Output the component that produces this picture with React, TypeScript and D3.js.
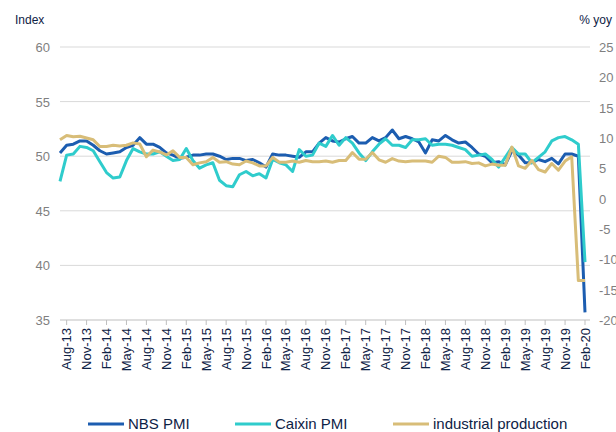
import React from 'react';
import * as d3 from 'd3';

// 月度数据：Jul-13 ~ Feb-20
const months = d3.timeMonth.range(new Date(2013, 6, 1), new Date(2020, 2, 1));

const xTickLabels = [
  'Aug-13', 'Nov-13', 'Feb-14', 'May-14', 'Aug-14', 'Nov-14', 'Feb-15', 'May-15', 'Aug-15',
  'Nov-15', 'Feb-16', 'May-16', 'Aug-16', 'Nov-16', 'Feb-17', 'May-17', 'Aug-17', 'Nov-17',
  'Feb-18', 'May-18', 'Aug-18', 'Nov-18', 'Feb-19', 'May-19', 'Aug-19', 'Nov-19', 'Feb-20',
];

const leftTicks = [35, 40, 45, 50, 55, 60];
const rightTicks = [-20, -15, -10, -5, 0, 5, 10, 15, 20, 25];

// NBS PMI（左轴）
const nbsPmi = [
  50.3, 51.0, 51.1, 51.4, 51.4, 51.0,
  50.5, 50.2, 50.3, 50.4, 50.8, 51.0, 51.7, 51.1, 51.1, 50.8, 50.3, 50.1,
  49.8, 49.9, 50.1, 50.1, 50.2, 50.2, 50.0, 49.7, 49.8, 49.8, 49.6, 49.7,
  49.4, 49.0, 50.2, 50.1, 50.1, 50.0, 49.9, 50.4, 50.4, 51.2, 51.7, 51.4,
  51.3, 51.6, 51.8, 51.2, 51.2, 51.7, 51.4, 51.7, 52.4, 51.6, 51.8, 51.6,
  51.3, 50.3, 51.5, 51.4, 51.9, 51.5, 51.2, 51.3, 50.8, 50.2, 50.0, 49.4,
  49.5, 49.2, 50.5, 50.1, 49.4, 49.4, 49.7, 49.5, 49.8, 49.3, 50.2, 50.2,
  50.0, 35.7,
];

// Caixin PMI（左轴）
const caixinPmi = [
  47.7, 50.1, 50.2, 50.9, 50.8, 50.5,
  49.5, 48.5, 48.0, 48.1, 49.6, 50.7, 50.4, 50.2, 50.2, 50.4, 50.0, 49.6,
  49.7, 50.7, 49.6, 48.9, 49.2, 49.4, 47.8, 47.3, 47.2, 48.3, 48.6, 48.2,
  48.4, 48.0, 49.7, 49.4, 49.2, 48.6, 50.6, 50.0, 50.1, 51.2, 50.9, 51.9,
  51.0, 51.7, 51.2, 50.3, 49.6, 50.4, 51.1, 51.6, 51.0, 51.0, 50.8, 51.5,
  51.5, 51.6, 51.0, 51.1, 51.1, 51.0, 50.8, 50.6, 50.0, 50.1, 50.2, 49.7,
  49.0, 49.9, 50.8, 50.2, 50.2, 49.4, 49.9, 50.4, 51.4, 51.7, 51.8, 51.5,
  51.1, 40.3,
];

// 工业增加值 % yoy（右轴）
const industrialProduction = [
  9.7, 10.4, 10.2, 10.3, 10.0, 9.7,
  8.6, 8.6, 8.8, 8.7, 8.8, 9.2, 9.0, 6.9, 8.0, 7.7, 7.2, 7.9,
  6.8, 6.8, 5.6, 5.9, 6.1, 6.8, 6.0, 6.1, 5.7, 5.6, 6.2, 5.9,
  5.4, 5.4, 6.8, 6.0, 6.0, 6.2, 6.0, 6.3, 6.1, 6.1, 6.2, 6.0,
  6.3, 6.3, 7.6, 6.5, 6.5, 7.6, 6.4, 6.0, 6.6, 6.2, 6.1, 6.2,
  6.2, 6.2, 6.0, 7.0, 6.8, 6.0, 6.0, 6.1, 5.8, 5.9, 5.4, 5.7,
  5.5, 5.5, 8.5, 5.4, 5.0, 6.3, 4.8, 4.4, 5.8, 4.7, 6.2, 6.9,
  -13.5, -13.5,
];

const fmt = d3.timeFormat('%b-%y');
const categories = months.map(m => fmt(m));

const NAVY = '#0e2245';
const GRAY = '#7f7f7f';
const FONT = '"Liberation Sans", Arial, sans-serif';

const series = [
  { name: 'NBS PMI', values: nbsPmi, color: '#1c5db0', axis: 'left' },
  { name: 'Caixin PMI', values: caixinPmi, color: '#2fcccc', axis: 'left' },
  { name: 'industrial production', values: industrialProduction, color: '#d8bd78', axis: 'right' },
];

const App: React.FC = () => {
  const width = 616;
  const height = 432;
  const plot = { left: 60, right: 590, top: 47, bottom: 320 };

  const x = d3.scalePoint<string>().domain(categories).range([plot.left, 585]);
  const yL = d3.scaleLinear().domain([35, 60]).range([plot.bottom, plot.top]);
  const yR = d3.scaleLinear().domain([-20, 25]).range([plot.bottom, plot.top]);

  const makeLine = (scale: d3.ScaleLinear<number, number>) =>
    d3.line<number>()
      .x((_, i) => x(categories[i]) as number)
      .y(d => scale(d));

  const legendItems = [
    { name: 'NBS PMI', color: '#1c5db0', x: 88 },
    { name: 'Caixin PMI', color: '#2fcccc', x: 235 },
    { name: 'industrial production', color: '#d8bd78', x: 393 },
  ];

  return (
    <svg width={width} height={height} style={{ position: 'absolute', left: 0, top: 0, fontFamily: FONT }}>
      <rect width={width} height={height} fill="#fff" />

      {/* 网格线 */}
      {leftTicks.map(t => (
        <line key={`g-${t}`} x1={plot.left} x2={plot.right} y1={yL(t)} y2={yL(t)}
          stroke={t === 35 ? '#bfbfbf' : '#d9d9d9'} strokeWidth={1} />
      ))}

      {/* 左轴 */}
      {leftTicks.map(t => (
        <text key={`l-${t}`} x={50} y={yL(t) + 5} textAnchor="end" fontSize={13} fill={GRAY}>{t}</text>
      ))}
      {/* 右轴（参考图里右侧被裁切） */}
      {rightTicks.map(t => (
        <text key={`r-${t}`} x={599} y={yR(t) + 5} textAnchor="start" fontSize={13} fill={GRAY}>{t}</text>
      ))}

      <text x={15} y={24} fontSize={12} fill={NAVY}>Index</text>
      <text x={612} y={24} fontSize={12} fill={NAVY} textAnchor="end">% yoy</text>

      {/* 横轴刻度 */}
      {xTickLabels.map(lbl => {
        const xp = x(lbl) as number;
        return (
          <g key={lbl}>
            <line x1={xp} x2={xp} y1={plot.bottom} y2={plot.bottom + 5} stroke="#bfbfbf" />
            <text transform={`translate(${xp + 4.5},${plot.bottom + 8}) rotate(-90)`}
              textAnchor="end" fontSize={13} fill={NAVY}>{lbl}</text>
          </g>
        );
      })}

      {/* 折线 */}
      {series.map(s => (
        <path key={s.name} d={makeLine(s.axis === 'left' ? yL : yR)(s.values) || ''}
          fill="none" stroke={s.color} strokeWidth={3} strokeLinejoin="round" />
      ))}

      {/* 图例 */}
      {legendItems.map(it => (
        <g key={it.name}>
          <line x1={it.x} x2={it.x + 36} y1={424} y2={424} stroke={it.color} strokeWidth={3} />
          <text x={it.x + 40} y={429} fontSize={15} fill={NAVY}>{it.name}</text>
        </g>
      ))}
    </svg>
  );
};

export default App;
